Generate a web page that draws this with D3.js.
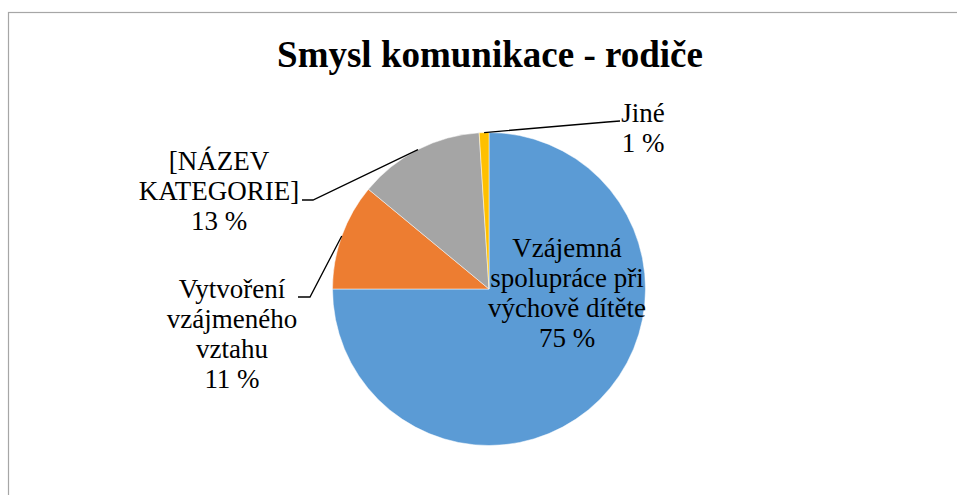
<!DOCTYPE html>
<html>
<head>
<meta charset="utf-8">
<script src="https://cdn.jsdelivr.net/npm/d3@7"></script>
<style>
  body { margin: 0; background: #fff; }
  svg { display: block; }
</style>
</head>
<body>
<div id="chart"></div>
<script>
// Chart data
const title = "Smysl komunikace - rodiče";
const categories = [
  "Vzájemná spolupráce při výchově dítěte",
  "Vytvoření vzájmeného vztahu",
  "[NÁZEV KATEGORIE]",
  "Jiné",
];
const values = [75, 11, 13, 1];
const labelLines = [
  ["Vzájemná", "spolupráce při", "výchově dítěte"],
  ["Vytvoření", "vzájmeného", "vztahu"],
  ["[NÁZEV", "KATEGORIE]"],
  ["Jiné"],
];
const colors = ["#5B9BD5", "#ED7D31", "#A5A5A5", "#FFC000"];

const width = 957;
const height = 495;
const center = { x: 489, y: 289 };
const radius = 156.5;

// where each data label sits (text centre x, first baseline), relative to pie centre
const labelPos = [
  { dx: 78, dy: -32, leader: null },
  { dx: -257, dy: 9, leader: { elbow: [-179, 8], end: [-191, 8] } },
  { dx: -270, dy: -119, leader: { elbow: [-176, -89], end: [-187, -89] } },
  { dx: 154, dy: -167, leader: { elbow: [118, -167], end: [131, -168] } },
];
const lineHeight = 30;

const svg = d3
  .select("#chart")
  .append("svg")
  .attr("width", width)
  .attr("height", height);

// chart frame (runs off the right and bottom of the picture)
svg
  .append("rect")
  .attr("x", 8.5)
  .attr("y", 12.5)
  .attr("width", width + 20)
  .attr("height", height + 20)
  .attr("fill", "none")
  .attr("stroke", "#a6a6a6")
  .attr("stroke-width", 1.2);

// Title
svg
  .append("text")
  .attr("x", 490)
  .attr("y", 67)
  .attr("text-anchor", "middle")
  .attr("font-family", "Liberation Serif")
  .attr("font-size", 37)
  .attr("font-weight", "bold")
  .text(title);

const g = svg
  .append("g")
  .attr("transform", `translate(${center.x}, ${center.y})`);

const pie = d3.pie().sort(null).value((d) => d);
const arcs = pie(values);

const arc = d3.arc().innerRadius(0).outerRadius(radius);
const edgeArc = d3.arc().innerRadius(radius).outerRadius(radius);

g.selectAll("path.slice")
  .data(arcs)
  .enter()
  .append("path")
  .attr("class", "slice")
  .attr("d", arc)
  .attr("fill", (d, i) => colors[i])
  .attr("stroke", "#fff")
  .attr("stroke-width", 0.5);

// leader lines from slice edge to label
arcs.forEach((d, i) => {
  const lp = labelPos[i];
  if (!lp.leader) return;
  const start = edgeArc.centroid(d);
  g.append("polyline")
    .attr("points", [start, lp.leader.elbow, lp.leader.end].map((p) => p.join(",")).join(" "))
    .attr("fill", "none")
    .attr("stroke", "#000")
    .attr("stroke-width", 1.3);
});

// data labels, one text per line
const labels = svg.append("g").attr("class", "labels");
arcs.forEach((d, i) => {
  const lp = labelPos[i];
  const pct = Math.round((d.data / d3.sum(values)) * 100) + " %";
  const lines = labelLines[i].concat([pct]);
  lines.forEach((ln, j) => {
    labels
      .append("text")
      .attr("x", center.x + lp.dx)
      .attr("y", center.y + lp.dy + j * lineHeight)
      .attr("text-anchor", "middle")
      .attr("font-family", "Liberation Serif")
      .attr("font-size", 27)
      .text(ln);
  });
});
</script>
</body>
</html>
